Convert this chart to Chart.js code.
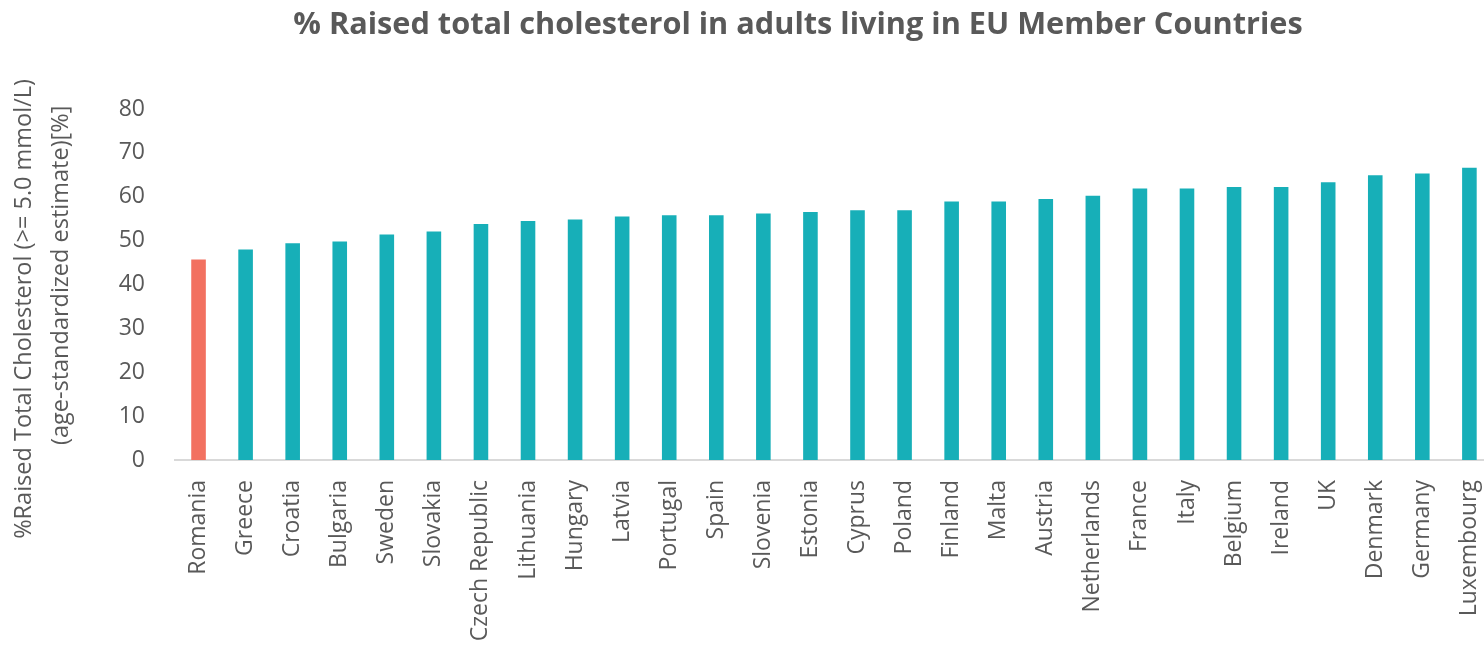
<!DOCTYPE html>
<html>
<head>
<meta charset="utf-8">
<script src="https://cdn.jsdelivr.net/npm/chart.js@4.4.1/dist/chart.umd.min.js"></script>
<style>
  html, body { margin: 0; padding: 0; background: #fff; overflow: hidden; }
  #wrap { position: relative; width: 1509px; height: 650px; }
  #title {
    position: absolute; left: 198px; top: 1px; width: 1200px;
    text-align: center; font: bold 30.7px "Open Sans", sans-serif; color: #595959;
    white-space: nowrap;
  }
</style>
</head>
<body>
<div id="wrap">
  <div id="title">% Raised total cholesterol in adults living in EU Member Countries</div>
  <canvas id="chart" width="1509" height="650"></canvas>
</div>
<script>
const countries = ['Romania', 'Greece', 'Croatia', 'Bulgaria', 'Sweden', 'Slovakia', 'Czech Republic',
  'Lithuania', 'Hungary', 'Latvia', 'Portugal', 'Spain', 'Slovenia', 'Estonia', 'Cyprus', 'Poland',
  'Finland', 'Malta', 'Austria', 'Netherlands', 'France', 'Italy', 'Belgium', 'Ireland', 'UK',
  'Denmark', 'Germany', 'Luxembourg'];
const raisedChol = [45.7, 48.0, 49.4, 49.8, 51.4, 52.1, 53.8, 54.5, 54.8, 55.5, 55.8, 55.8, 56.2,
  56.5, 56.9, 56.9, 58.9, 58.9, 59.5, 60.2, 61.9, 61.9, 62.2, 62.2, 63.3, 64.9, 65.3, 66.6];
// trailing / leading spaces nudge each line along the axis like the original layout
const yTitle = ['%Raised Total Cholesterol (>= 5.0 mmol/L)' + ' '.repeat(8),
  ' '.repeat(3) + '(age-standardized estimate)[%]'];

const TEAL = '#17afb8';
const CORAL = '#f27160';
const TEXT = '#595959';

const barColors = countries.map(c => c === 'Romania' ? CORAL : TEAL);

new Chart(document.getElementById('chart'), {
  type: 'bar',
  data: {
    labels: countries,
    datasets: [{
      data: raisedChol,
      backgroundColor: barColors,
      barPercentage: 0.31,
      categoryPercentage: 1
    }]
  },
  options: {
    responsive: false,
    animation: false,
    layout: { padding: { top: 109, left: 0, right: 0, bottom: 0 } },
    plugins: {
      legend: { display: false },
      tooltip: { enabled: false }
    },
    scales: {
      x: {
        grid: { display: false },
        border: { display: true, color: '#d9d9d9', width: 2 },
        ticks: {
          color: TEXT,
          font: { family: 'Open Sans', size: 23 },
          minRotation: 90,
          maxRotation: 90,
          autoSkip: false,
          padding: 12
        },
        afterFit: s => { s.height = 190; }
      },
      y: {
        min: 0,
        max: 80,
        grid: { display: false },
        border: { display: false },
        ticks: {
          stepSize: 10,
          color: TEXT,
          font: { family: 'Open Sans', size: 23 },
          padding: 22
        },
        title: {
          display: true,
          text: yTitle,
          color: TEXT,
          font: { family: 'Open Sans', size: 23.5, lineHeight: 1.57 },
          padding: { top: 6, bottom: 0 }
        },
        afterFit: s => { s.width = 175; }
      }
    }
  }
});
</script>
</body>
</html>
